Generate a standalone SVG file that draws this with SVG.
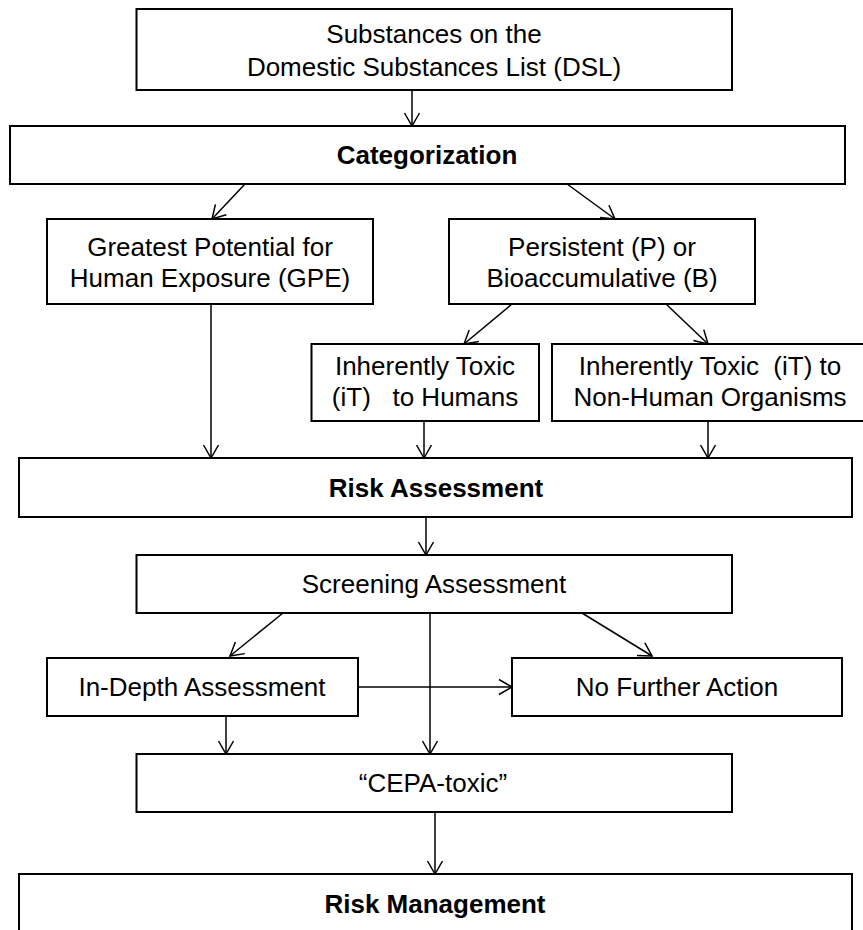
<svg xmlns="http://www.w3.org/2000/svg" width="863" height="930" viewBox="0 0 863 930">
<style>
.box{fill:#fff;stroke:#000;stroke-width:2}
text{font-family:"Liberation Sans",Arial,sans-serif;font-size:26px;fill:#000;text-anchor:middle;white-space:pre}
.b{font-weight:bold}
.c{fill:none;stroke:#000;stroke-width:1.5;marker-end:url(#ah)}
</style>
<defs>
<marker id="ah" markerUnits="userSpaceOnUse" markerWidth="20" markerHeight="20" viewBox="-15 -10 17 20" refX="0" refY="0" orient="auto" overflow="visible">
<path d="M-13,-7.5 L0,0 L-13,7.5" fill="none" stroke="#000" stroke-width="1.5"/>
</marker>
</defs>
<rect width="863" height="930" fill="#fff"/>
<g id="connectors">
<line class="c" x1="412" y1="90" x2="412" y2="126"/>
<line class="c" x1="245" y1="184" x2="212" y2="219"/>
<line class="c" x1="567" y1="184" x2="615" y2="219"/>
<line class="c" x1="512" y1="304" x2="464" y2="344"/>
<line class="c" x1="666" y1="304" x2="708" y2="344"/>
<line class="c" x1="211" y1="304" x2="211" y2="458"/>
<line class="c" x1="424" y1="421" x2="424" y2="458"/>
<line class="c" x1="708" y1="421" x2="708" y2="458"/>
<line class="c" x1="426" y1="517" x2="426" y2="555"/>
<line class="c" x1="283" y1="613" x2="230" y2="656"/>
<line class="c" x1="582" y1="613" x2="652" y2="656"/>
<line class="c" x1="358" y1="687" x2="512" y2="687"/>
<line class="c" x1="430" y1="613" x2="430" y2="754"/>
<line class="c" x1="226" y1="716" x2="226" y2="754"/>
<line class="c" x1="435" y1="812" x2="435" y2="874"/>
</g>
<g id="dsl">
<rect class="box" x="136.5" y="9" width="595.5" height="81"/>
<text x="434" y="43">Substances on the</text>
<text x="434" y="76">Domestic Substances List (DSL)</text>
</g>
<g id="categorization">
<rect class="box" x="10" y="126" width="835" height="58"/>
<text class="b" x="427" y="164">Categorization</text>
</g>
<g id="gpe">
<rect class="box" x="47" y="219" width="326" height="85"/>
<text x="210" y="256">Greatest Potential for</text>
<text x="210" y="287">Human Exposure (GPE)</text>
</g>
<g id="pb">
<rect class="box" x="449" y="219" width="306" height="85"/>
<text x="602" y="256">Persistent (P) or</text>
<text x="602" y="287">Bioaccumulative (B)</text>
</g>
<g id="it-humans">
<rect class="box" x="311.5" y="344" width="227.5" height="77"/>
<text x="425" y="375">Inherently Toxic</text>
<text x="425" y="406">(iT)   to Humans</text>
</g>
<g id="it-nonhuman">
<rect class="box" x="552" y="344" width="320" height="77"/>
<text x="710" y="375">Inherently Toxic  (iT) to</text>
<text x="710" y="406">Non-Human Organisms</text>
</g>
<g id="risk-assessment">
<rect class="box" x="19" y="458" width="833" height="59"/>
<text class="b" x="436" y="497">Risk Assessment</text>
</g>
<g id="screening">
<rect class="box" x="136.5" y="555" width="595.5" height="58"/>
<text x="434" y="593">Screening Assessment</text>
</g>
<g id="in-depth">
<rect class="box" x="47" y="658" width="311" height="58"/>
<text x="202" y="696">In-Depth Assessment</text>
</g>
<g id="no-further">
<rect class="box" x="512" y="658" width="330" height="58"/>
<text x="677" y="696">No Further Action</text>
</g>
<g id="cepa">
<rect class="box" x="136.5" y="754" width="595.5" height="58"/>
<text x="433" y="792">“CEPA-toxic”</text>
</g>
<g id="risk-management">
<rect class="box" x="19" y="874" width="833" height="70"/>
<text class="b" x="435" y="913">Risk Management</text>
</g>
</svg>
